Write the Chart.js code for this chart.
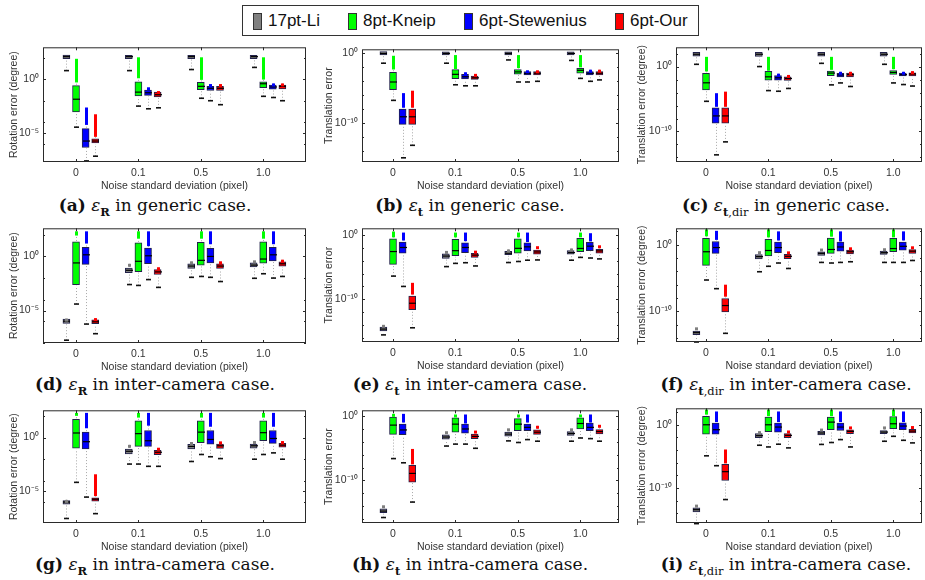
<!DOCTYPE html>
<html>
<head>
<meta charset="utf-8">
<script src="https://cdn.jsdelivr.net/npm/chart.js@4.4.0/dist/chart.umd.min.js"></script>
<style>
  body { margin: 0; width: 925px; height: 580px; background: #fff; position: relative; overflow: hidden;
         font-family: "Liberation Sans", Arial, sans-serif; }
  canvas { position: absolute; }
  #legend { position: absolute; left: 242px; top: 5px; width: 457px; height: 31px; border: 1px solid #333; box-sizing: border-box; }
  .sw { position: absolute; top: 7px; width: 9px; height: 17px; border: 1px solid #333; box-sizing: border-box; }
  .lt { position: absolute; top: 5px; font-size: 17px; line-height: 20px; color: #111; }
  .cap { position: absolute; font-family: "DejaVu Serif", serif; font-size: 17px; white-space: nowrap;
         transform: translate(-50%, -50%); color: #111; }
  .cap sub { font-size: 11.5px; }
</style>
</head>
<body>
<div id="legend"></div>

<script>
const noiseLabels = ['0', '0.1', '0.5', '1.0'];
const methods = ['17pt-Li', '8pt-Kneip', '6pt-Stewenius', '6pt-Our'];
const colors = ['#808080', '#00ff00', '#0000ff', '#ff0000'];

// every box is log10 of [lower whisker, q1, median, q3, outliers from, outliers to]
// (a) rotation, generic
const a_li    = [[0.8, 1.92, 2.1, 2.25, null, null], [0.8, 1.92, 2.1, 2.22, null, null], [0.9, 1.92, 2.1, 2.22, null, null], [1.1, 1.92, 2.1, 2.22, null, null]];
const a_kneip = [[-4.46, -3.05, -1.86, -0.6, -0.3, 1.9], [-2.5, -1.56, -1.2, -0.24, 0.09, 2.04], [-1.77, -0.96, -0.66, -0.3, -0.06, 2.04], [-1.59, -0.78, -0.42, -0.24, -0.03, 2.04]];
const a_stew  = [[-7.6, -6.35, -5.75, -4.6, -4.25, -2.63], [-2.75, -1.5, -1.26, -1.02, -0.96, -0.75], [-2.0, -1.05, -0.84, -0.66, -0.45, -0.45], [-1.7, -0.93, -0.72, -0.54, -0.39, -0.39]];
const a_our   = [[-7.16, -5.93, -5.75, -5.54, -5.36, -3.26], [-2.66, -1.65, -1.44, -1.2, -1.1, -1.1], [-2.37, -1.05, -0.84, -0.66, -0.45, -0.45], [-2.0, -0.9, -0.66, -0.54, -0.39, -0.39]];
// (b) translation, generic
const b_li    = [[-1.4, -0.19, 0, 0.28, null, null], [-1.4, -0.19, 0, 0.23, null, null], [-0.93, -0.19, 0, 0.23, null, null], [-1.0, -0.19, 0, 0.23, null, null]];
const b_kneip = [[-6.74, -5.2, -4.1, -2.7, -2.3, -0.33], [-4.5, -3.63, -3.0, -2.33, -2.23, -0.23], [-4.1, -2.98, -2.65, -2.33, -2.1, -0.23], [-3.58, -2.84, -2.42, -2.14, -2.0, -0.23]];
const b_stew  = [[-15.0, -10.2, -9.1, -8.0, -7.8, -5.7], [-4.65, -3.67, -3.35, -3.0, -2.7, -2.7], [-4.1, -3.1, -2.88, -2.6, -2.42, -2.42], [-4.0, -3.07, -2.84, -2.6, -2.33, -2.33]];
const b_our   = [[-13.2, -10.2, -9.1, -8.0, -7.8, -5.35], [-4.65, -3.72, -3.5, -3.26, -2.93, -2.93], [-4.0, -3.1, -2.84, -2.6, -2.42, -2.42], [-3.8, -3.07, -2.84, -2.6, -2.33, -2.33]];
// (c) translation direction, generic
const c_li    = [[0.35, 1.6, 1.9, 2.2, null, null], [0, 1.58, 1.9, 2.18, null, null], [0.5, 1.6, 1.9, 2.18, null, null], [0.35, 1.6, 1.9, 2.18, null, null]];
const c_kneip = [[-5.35, -3.6, -2.5, -1.04, -0.75, 1.5], [-3.7, -2.08, -1.58, -0.74, -0.64, 1.5], [-2.82, -1.39, -1.0, -0.7, -0.5, 1.5], [-2.52, -1.2, -0.9, -0.6, -0.4, 1.5]];
const c_stew  = [[-13.6, -8.7, -7.6, -6.34, -6.2, -4.1], [-3.8, -2.08, -1.73, -1.39, -1.09, -1.09], [-2.52, -1.58, -1.29, -1.04, -0.8, -0.8], [-2.77, -1.44, -1.24, -1.0, -0.8, -0.8]];
const c_our   = [[-11.6, -8.7, -7.6, -6.34, -6.2, -3.86], [-3.37, -2.13, -1.83, -1.58, -1.29, -1.29], [-3.07, -1.58, -1.24, -1.0, -0.8, -0.8], [-3.0, -1.44, -1.14, -0.95, -0.7, -0.7]];
// (d) rotation, inter-camera
const d_li    = [[-7.74, -6.19, -5.98, -5.8, -5.74, -5.74], [-2.6, -1.49, -1.28, -1.07, -0.68, -0.68], [-1.93, -1.1, -0.89, -0.68, -0.45, -0.45], [-2.02, -0.98, -0.8, -0.6, -0.36, -0.36]];
const d_kneip = [[-4.4, -2.62, -0.6, 1.34, 1.93, 2.32], [-2.68, -1.4, -0.45, 1.25, 1.64, 2.32], [-1.85, -0.8, -0.36, 1.31, 1.64, 2.32], [-1.6, -0.63, -0.24, 1.34, 1.64, 2.32]];
const d_stew  = [[-6.25, -0.74, 0.15, 0.83, 1.19, 2.32], [-2.14, -0.68, 0.06, 0.77, 0.95, 2.32], [-1.93, -0.6, 0, 0.74, 1.13, 2.32], [-2.0, -0.42, 0.15, 0.83, 1.13, 2.32]];
const d_our   = [[-7.14, -6.22, -6.04, -5.86, -5.7, -5.7], [-2.86, -1.67, -1.43, -1.22, -1.0, -1.0], [-2.32, -1.1, -0.89, -0.68, -0.45, -0.45], [-1.85, -0.89, -0.68, -0.5, -0.3, -0.3]];
// (e) translation, inter-camera
const e_li    = [[-15.5, -14.9, -14.6, -14.3, -13.94, -13.94], [-4.93, -3.65, -3.3, -2.96, -2.5, -2.5], [-4.3, -3.1, -2.86, -2.56, -2.27, -2.27], [-3.94, -3.0, -2.76, -2.46, -2.12, -2.12]];
const e_kneip = [[-6.4, -4.58, -2.6, -0.64, -0.4, 0.5], [-4.43, -3.25, -2.46, -0.69, -0.4, 0.34], [-4.14, -2.86, -2.1, -0.64, -0.4, 0.34], [-3.5, -2.6, -2.12, -0.54, -0.4, 0.34]];
const e_stew  = [[-8.0, -2.86, -1.97, -1.13, -0.89, 0.34], [-4.33, -2.76, -1.97, -1.23, -0.99, 0.34], [-3.94, -2.5, -1.87, -1.23, -1.13, 0.34], [-3.6, -2.46, -1.77, -1.18, -1.03, 0.24]];
const e_our   = [[-14.4, -11.6, -10.6, -9.5, -9.26, -7.44], [-4.83, -3.5, -3.15, -2.86, -2.46, -2.46], [-3.9, -3.0, -2.66, -2.36, -2.1, -1.77], [-3.74, -2.86, -2.5, -2.27, -2.0, -1.63]];
// (f) translation direction, inter-camera
const f_li    = [[-14.6, -13.5, -13.2, -12.95, -12.4, -12.4], [-4.06, -2.13, -1.79, -1.5, -0.97, -0.97], [-2.66, -1.6, -1.3, -1.06, -0.58, -0.58], [-2.66, -1.45, -1.2, -0.97, -0.53, -0.53]];
const f_kneip = [[-5.3, -3.1, -1.06, 0.97, 1.26, 2.3], [-3.24, -1.69, -0.87, 0.82, 1.1, 2.3], [-2.75, -1.3, -0.72, 1.0, 1.2, 2.3], [-2.66, -1.06, -0.58, 0.97, 1.1, 2.3]];
const f_stew  = [[-6.6, -1.3, -0.43, 0.48, 0.72, 2.08], [-2.75, -1.2, -0.43, 0.39, 0.63, 2.0], [-2.66, -0.97, -0.34, 0.39, 0.48, 2.0], [-2.66, -0.82, -0.24, 0.39, 0.63, 2.0]];
const f_our   = [[-13.3, -10.1, -9.13, -8.07, -7.8, -6.0], [-3.57, -2.08, -1.74, -1.45, -1.0, -1.0], [-2.56, -1.4, -1.06, -0.82, -0.39, -0.39], [-2.37, -1.3, -0.97, -0.72, -0.24, -0.24]];
// (g) rotation, intra-camera
const g_li    = [[-7.53, -6.2, -6.0, -5.86, -5.8, -5.8], [-2.47, -1.52, -1.28, -1.07, -0.68, -0.68], [-2.23, -1.07, -0.83, -0.63, -0.42, -0.42], [-2.02, -0.98, -0.77, -0.6, -0.33, -0.33]];
const g_kneip = [[-4.17, -1.0, 0.42, 1.7, 2.05, 2.29], [-2.47, -0.83, 0.36, 1.55, 1.85, 2.29], [-1.58, -0.48, 0.5, 1.55, 1.85, 2.29], [-1.58, -0.3, 0.45, 1.55, 1.85, 2.29]];
const g_stew  = [[-5.54, -1.07, -0.39, 0.5, 0.86, 2.29], [-2.68, -0.83, -0.3, 0.65, 1.1, 2.29], [-1.79, -0.63, -0.18, 0.65, 1.0, 2.29], [-1.43, -0.54, -0.09, 0.65, 1.0, 2.29]];
const g_our   = [[-7.08, -5.92, -5.74, -5.6, -5.45, -3.42], [-2.68, -1.6, -1.37, -1.19, -0.95, -0.95], [-1.96, -1.01, -0.77, -0.6, -0.36, -0.36], [-2.02, -0.89, -0.71, -0.54, -0.33, -0.33]];
// (h) translation, intra-camera
const h_li    = [[-15.75, -15.0, -14.75, -14.4, -13.85, -13.85], [-4.65, -3.6, -3.25, -2.9, -2.35, -2.35], [-3.85, -3.1, -2.8, -2.5, -1.9, -1.9], [-3.9, -3.0, -2.7, -2.4, -1.9, -1.9]];
const h_kneip = [[-6.6, -2.85, -1.4, -0.15, 0, 0.35], [-4.35, -2.5, -1.25, -0.25, 0, 0.25], [-4.1, -2.25, -1.25, -0.4, -0.15, 0.25], [-3.4, -2.0, -1.15, -0.25, 0.1, 0.25]];
const h_stew  = [[-7.25, -2.9, -2.15, -1.25, -1.0, 0.35], [-4.35, -2.65, -2.0, -1.25, -1.15, 0.25], [-3.65, -2.25, -1.75, -1.25, -1.0, 0.25], [-3.5, -2.25, -1.75, -1.1, -1.0, 0.25]];
const h_our   = [[-13.35, -10.25, -8.9, -7.65, -7.5, -5.1], [-5.0, -3.5, -3.15, -2.8, -2.25, -2.25], [-3.9, -2.85, -2.5, -2.15, -1.5, -1.5], [-3.9, -2.75, -2.4, -2.1, -1.7, -1.35]];
// (i) translation direction, intra-camera
const i_li    = [[-15.6, -13.75, -13.4, -13.1, -12.6, -12.6], [-3.23, -2.03, -1.72, -1.4, -1.0, -1.0], [-3.1, -1.6, -1.3, -1.04, -0.6, -0.6], [-2.6, -1.4, -1.15, -0.9, -0.26, -0.26]];
const i_kneip = [[-4.9, -1.5, 0, 1.35, 1.6, 2.4], [-3.5, -1.1, 0, 1.2, 1.35, 2.4], [-2.8, -0.78, 0.42, 1.2, 1.35, 2.4], [-1.82, -0.63, 0.16, 1.3, 1.35, 2.4]];
const i_stew  = [[-6.46, -1.5, -0.78, 0.26, 0.42, 2.1], [-3.07, -1.15, -0.36, 0.26, 0.42, 2.1], [-2.34, -0.9, -0.36, 0.26, 0.42, 2.1], [-2.45, -0.78, -0.2, 0.31, 0.42, 2.1]];
const i_our   = [[-11.8, -8.8, -7.4, -6.25, -6.1, -3.9], [-3.65, -2.03, -1.67, -1.4, -0.9, -0.9], [-3.5, -1.4, -1.04, -0.78, -0.26, -0.26], [-2.86, -1.3, -1.0, -0.73, -0.2, -0.2]];

const panelData = [
  [a_li, a_kneip, a_stew, a_our], [b_li, b_kneip, b_stew, b_our], [c_li, c_kneip, c_stew, c_our],
  [d_li, d_kneip, d_stew, d_our], [e_li, e_kneip, e_stew, e_our], [f_li, f_kneip, f_stew, f_our],
  [g_li, g_kneip, g_stew, g_our], [h_li, h_kneip, h_stew, h_our], [i_li, i_kneip, i_stew, i_our]
];
const yMinExp = [-7.7, -15.6, -14.7, -8.0, -16.6, -14.6, -7.95, -16.6, -15.5];
const yMaxExp = [2.97, 0.6, 2.97, 2.6, 1.0, 2.46, 2.53, 0.9, 2.6];
const yTickExp = [[-5, 0], [-10, 0], [-10, 0], [-5, 0], [-10, 0], [-10, 0], [-5, 0], [-10, 0], [-10, 0]];
const yTitles = ['Rotation error (degree)', 'Translation error', 'Translation error (degree)'];
const xTitle = 'Noise standard deviation (pixel)';
const captionLetters = ['a', 'b', 'c', 'd', 'e', 'f', 'g', 'h', 'i'];
const captionCases = ['generic case.', 'inter-camera case.', 'intra-camera case.'];

// layout: plot rectangles per column / row
const colPlot = [[43, 306], [362, 619], [676, 922]];
const colCanvasLeft = [6, 321, 634];
const colXRange = [[-2.44, 24.96], [-2.23, 24.54], [-2.125, 23.5]];
const rowPlot = [[[43, 162], [45, 162], [43, 162]], [[224, 343], [224, 342], [224, 342]], [[406, 523], [406, 523], [404, 523]]];
const capCenterX = [155, 470, 786];
const capCenterY = [207, 386, 566];
const groupGap = 6.5;

// legend
const legend = document.getElementById('legend');
const swLeft = [10, 105, 221, 372];
methods.forEach((m, k) => {
  const sw = document.createElement('div');
  sw.className = 'sw';
  sw.style.left = swLeft[k] + 'px';
  sw.style.background = colors[k];
  legend.appendChild(sw);
  const t = document.createElement('div');
  t.className = 'lt';
  t.style.left = (swLeft[k] + 15) + 'px';
  t.textContent = m;
  legend.appendChild(t);
});

const supMap = { '0': '\u2070', '5': '\u2075', '1': '\u00b9', '-': '\u207b' };
function sup(n) { return String(n).split('').map(c => supMap[c]).join(''); }

function line(ctx, x1, y1, x2, y2) {
  ctx.beginPath(); ctx.moveTo(x1, y1); ctx.lineTo(x2, y2); ctx.stroke();
}

const boxPlugin = {
  id: 'boxes',
  afterDatasetsDraw(chart) {
    const ctx = chart.ctx, ys = chart.scales.y;
    const sets = chart.options.plugins.boxes.sets;
    const py = v => ys.getPixelForValue(Math.pow(10, v));
    sets.forEach((boxes, d) => {
      chart.getDatasetMeta(d).data.forEach((el, i) => {
        const b = boxes[i];
        const x = Math.round(el.x) + 0.5, w = el.width;
        ctx.save();
        ctx.strokeStyle = '#a8a8a8'; ctx.lineWidth = 1; ctx.setLineDash([1, 2]);
        line(ctx, x, py(b[0]), x, py(b[1]) + 1);
        if (b[4] !== null && b[4] > b[3]) line(ctx, x, py(b[3]) - 1, x, py(b[4]));
        ctx.setLineDash([]);
        ctx.strokeStyle = '#111'; ctx.lineWidth = 1.6;
        line(ctx, x - 2.5, py(b[0]), x + 2.5, py(b[0]));
        ctx.strokeStyle = '#000'; ctx.lineWidth = 1.2;
        line(ctx, x - w / 2, py(b[2]), x + w / 2, py(b[2]));
        if (b[5] !== null) {
          let y1 = py(b[4]);
          const y2 = py(b[5]);
          if (y1 - y2 < 3) y1 = y2 + 3;
          ctx.strokeStyle = colors[d]; ctx.lineWidth = 3;
          line(ctx, x, y1, x, y2);
        }
        ctx.restore();
      });
    });
  }
};

const framePlugin = {
  id: 'frame',
  afterDraw(chart) {
    const { left, top, right, bottom } = chart.chartArea;
    const ctx = chart.ctx, ys = chart.scales.y;
    ctx.save();
    ctx.strokeStyle = '#2a2a2a'; ctx.lineWidth = 1;
    ctx.strokeRect(left + 0.5, top + 0.5, right - left - 1, bottom - top - 1);
    chart.scales.x.ticks.forEach(t => {
      const x = Math.round(chart.scales.x.getPixelForValue(t.value)) + 0.5;
      line(ctx, x, bottom, x, bottom - 3);
      line(ctx, x, top, x, top + 3);
    });
    // decade ticks, every second one, inside the box
    const lo = Math.ceil(Math.log10(ys.min)), hi = Math.floor(Math.log10(ys.max));
    for (let e = lo; e <= hi; e++) {
      const major = ys.ticks.some(t => Math.abs(Math.log10(t.value) - e) < 1e-6);
      if (!major && e % 2 !== 0) continue;
      const y = Math.round(ys.getPixelForValue(Math.pow(10, e))) + 0.5;
      const len = major ? 3 : 2;
      line(ctx, left, y, left + len, y);
      line(ctx, right, y, right - len, y);
    }
    ctx.restore();
  }
};

panelData.forEach((sets, p) => {
  const row = Math.floor(p / 3), col = p % 3;
  const [pl, pr] = colPlot[col];
  const [pt, pb] = rowPlot[row][col];
  const cLeft = colCanvasLeft[col];
  const cTop = pt - 6;
  const yW = pl - cLeft;
  const cW = Math.min(pr + 3, 925) - cLeft;
  const xH = 31;
  const cH = pb + xH - cTop;
  const rightPad = cW - (pr - cLeft);

  const cv = document.createElement('canvas');
  cv.width = cW; cv.height = cH;
  cv.style.left = cLeft + 'px'; cv.style.top = cTop + 'px';
  document.body.appendChild(cv);

  const xTicks = noiseLabels.map((_, g) => g * groupGap + 1);

  new Chart(cv, {
    type: 'bar',
    data: {
      datasets: sets.map((boxes, s) => ({
        label: methods[s],
        data: boxes.map((b, g) => ({ x: g * groupGap + s, y: [Math.pow(10, b[1]), Math.pow(10, b[3])] })),
        backgroundColor: colors[s],
        borderColor: '#22224a',
        borderWidth: 1,
        borderSkipped: false,
        barThickness: 7,
        grouped: false
      }))
    },
    options: {
      responsive: false,
      animation: false,
      events: [],
      devicePixelRatio: 1,
      layout: { padding: { top: 6, right: rightPad, left: 0, bottom: 0 } },
      plugins: {
        legend: { display: false },
        tooltip: { enabled: false },
        boxes: { sets: sets }
      },
      scales: {
        x: {
          type: 'linear',
          offset: false,
          min: colXRange[col][0],
          max: colXRange[col][1],
          grid: { display: false, drawTicks: false, offset: false },
          border: { display: false },
          afterBuildTicks: s => { s.ticks = xTicks.map(v => ({ value: v })); },
          afterFit: s => { s.height = xH; },
          ticks: {
            padding: 5,
            color: '#333',
            font: { size: 10.5, family: 'Liberation Sans' },
            maxRotation: 0,
            callback: (v, i) => noiseLabels[i]
          },
          title: {
            display: true, text: xTitle, color: '#333',
            font: { size: 10.5, family: 'Liberation Sans' },
            padding: { top: 0, bottom: 1 }
          }
        },
        y: {
          type: 'logarithmic',
          min: Math.pow(10, yMinExp[p]),
          max: Math.pow(10, yMaxExp[p]),
          grid: { display: false, drawTicks: false },
          border: { display: false },
          afterBuildTicks: s => { s.ticks = yTickExp[p].map(e => ({ value: Math.pow(10, e) })); },
          afterFit: s => { s.width = yW; },
          ticks: {
            padding: 4,
            color: '#333',
            font: { size: 10.5, family: 'Liberation Sans' },
            callback: (v, i) => '10' + sup(yTickExp[p][i])
          },
          title: {
            display: true, text: yTitles[col], color: '#333',
            font: { size: 10.5, family: 'Liberation Sans' },
            padding: { top: 2, bottom: 0 }
          }
        }
      }
    },
    plugins: [boxPlugin, framePlugin]
  });

  // caption
  const cap = document.createElement('div');
  cap.className = 'cap';
  cap.style.left = capCenterX[col] + 'px';
  cap.style.top = capCenterY[row] + 'px';
  const sub = col === 0 ? '<b>R</b>' : (col === 1 ? '<b>t</b>' : '<b>t</b>,dir');
  cap.innerHTML = '<b>(' + captionLetters[p] + ')</b> <i>\u03b5</i><sub>' + sub + '</sub> in ' + captionCases[row];
  document.body.appendChild(cap);
});
</script>
</body>
</html>
